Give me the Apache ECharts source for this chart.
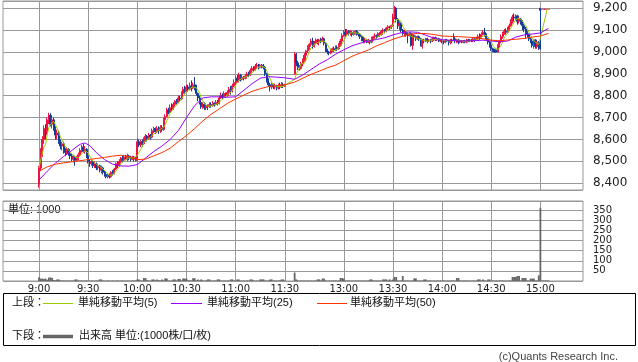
<!DOCTYPE html>
<html><head><meta charset="utf-8">
<script src="https://cdn.jsdelivr.net/npm/echarts@6/dist/echarts.min.js"></script>
<style>html,body{margin:0;padding:0;background:#fff}#c{width:638px;height:362px}</style>
</head><body><div id="c"></div><script>
// ---- time categories ----
function hm(t){return Math.floor(t/60)+':'+String(t%60).padStart(2,'0');}
function span(a,b){const o=[];for(let t=a;t<=b;t++)o.push(hm(t));return o;}
const preTimes = span(8*60+38, 8*60+59);
const amTimes = span(9*60, 11*60+30);
const gapTimes = ['g1','g2','g3','g4','g5'];
const pmTimes = span(12*60+30, 15*60+5);
const postTimes = span(15*60+6, 15*60+26);
const xTickLabels = ['9:00','9:30','10:00','10:30','11:00','11:30','13:00','13:30','14:00','14:30','15:00'];

// ---- candles [open, close, low, high] ----
const amCandles = [
[8395,8470,8380,8480],[8470,8540,8455,8560],[8540,8600,8520,8615],[8600,8650,8580,8665],[8650,8630,8600,8670],
[8630,8690,8620,8700],[8690,8710,8670,8722],[8710,8670,8660,8720],[8670,8690,8650,8700],[8690,8650,8640,8700],
[8650,8620,8600,8660],[8620,8630,8600,8645],[8630,8590,8580,8640],[8590,8570,8555,8600],[8570,8580,8550,8590],
[8580,8550,8535,8590],[8550,8540,8525,8560],[8540,8555,8530,8565],[8555,8535,8525,8560],[8535,8525,8510,8545],
[8525,8510,8500,8535],[8510,8520,8495,8530],[8520,8505,8480,8525],[8505,8515,8500,8525],[8515,8530,8505,8540],
[8530,8550,8525,8560],[8550,8565,8540,8575],[8565,8545,8540,8580],[8545,8555,8535,8570],[8555,8525,8515,8560],
[8525,8500,8490,8530],[8500,8490,8475,8510],[8490,8500,8480,8505],[8500,8480,8470,8505],[8480,8490,8470,8500],
[8490,8470,8460,8495],[8470,8480,8460,8490],[8480,8460,8450,8485],[8460,8470,8445,8480],[8470,8450,8440,8475],
[8450,8440,8430,8460],[8440,8430,8422,8450],[8430,8435,8422,8445],[8435,8430,8422,8445],[8430,8450,8425,8455],
[8450,8445,8435,8460],[8445,8465,8440,8470],[8465,8490,8460,8495],[8490,8480,8470,8500],[8480,8500,8475,8510],
[8500,8515,8490,8520],[8515,8505,8495,8525],[8505,8520,8500,8530],[8520,8510,8505,8530],[8510,8525,8500,8535],
[8525,8515,8505,8530],[8515,8510,8500,8525],[8510,8520,8505,8525],[8520,8510,8500,8525],[8510,8505,8500,8520],
[8505,8590,8500,8605],[8590,8575,8565,8600],[8575,8590,8565,8598],[8590,8580,8565,8600],[8580,8600,8575,8610],
[8600,8615,8590,8625],[8615,8605,8590,8620],[8605,8620,8598,8630],[8620,8610,8600,8625],[8610,8640,8605,8650],
[8640,8650,8630,8658],[8650,8635,8625,8655],[8635,8650,8630,8660],[8650,8640,8625,8660],[8640,8655,8630,8665],
[8655,8645,8635,8665],[8645,8690,8640,8700],[8690,8705,8680,8715],[8705,8735,8700,8745],[8735,8725,8715,8745],
[8725,8745,8720,8760],[8745,8740,8730,8765],[8740,8760,8735,8770],[8760,8775,8750,8780],[8775,8770,8760,8785],
[8770,8790,8765,8800],[8790,8785,8775,8800],[8785,8810,8780,8820],[8810,8830,8800,8840],[8830,8820,8810,8845],
[8820,8840,8815,8850],[8840,8830,8820,8850],[8830,8845,8825,8860],[8845,8835,8820,8870],[8835,8850,8830,8860],
[8850,8840,8825,8885],[8840,8810,8800,8850],[8810,8790,8775,8815],[8790,8770,8760,8800],[8770,8750,8740,8780],
[8750,8760,8740,8770],[8760,8745,8735,8770],[8745,8755,8735,8765],[8755,8750,8735,8760],[8750,8760,8745,8770],
[8760,8755,8745,8770],[8755,8765,8750,8775],[8765,8760,8750,8770],[8760,8770,8755,8780],[8770,8765,8755,8780],
[8765,8790,8760,8800],[8790,8800,8785,8815],[8800,8795,8785,8810],[8795,8810,8790,8820],[8810,8800,8790,8815],
[8800,8815,8795,8825],[8815,8830,8810,8840],[8830,8825,8805,8845],[8825,8845,8815,8855],[8845,8860,8840,8875],
[8860,8880,8850,8890],[8880,8870,8860,8895],[8870,8895,8860,8905],[8895,8875,8865,8900],[8875,8885,8870,8895],
[8885,8880,8870,8890],[8880,8890,8875,8900],[8890,8900,8880,8910],[8900,8895,8885,8910],[8895,8915,8890,8925],
[8915,8925,8905,8935],[8925,8920,8910,8935],[8920,8935,8915,8945],[8935,8940,8925,8950],[8940,8930,8920,8945],
[8930,8940,8925,8945],[8940,8935,8925,8945],[8935,8930,8920,8945],[8930,8900,8890,8935],[8900,8870,8860,8905],
[8870,8850,8840,8880],[8850,8840,8820,8860],[8840,8850,8830,8860],[8850,8840,8830,8855],[8840,8845,8830,8855],
[8845,8835,8825,8850],[8835,8845,8828,8855],[8845,8840,8830,8860],[8840,8850,8835,8862],[8850,8845,8835,8860],
[8845,8850,8840,8855]
];
const pmCandles = [
[8900,8990,8895,9000],[8990,8950,8935,8995],[8950,8930,8918,8960],[8930,8925,8915,8940],[8925,8945,8920,8955],
[8945,8960,8935,8970],[8960,8985,8955,8995],[8985,9005,8975,9010],[9005,9020,8995,9030],[9020,9035,9010,9040],
[9035,9050,9025,9060],[9050,9025,9015,9065],[9025,9040,9020,9050],[9040,9055,9035,9062],[9055,9045,9035,9060],
[9045,9055,9030,9060],[9055,9050,9040,9065],[9050,9060,9045,9070],[9060,9040,9030,9065],[9040,9010,9000,9045],
[9010,9000,8990,9015],[9000,8995,8985,9005],[8995,9005,8990,9015],[9005,9015,9000,9020],[9015,9010,9000,9025],
[9010,9020,9005,9030],[9020,9015,9005,9030],[9015,9030,9010,9040],[9030,9050,9025,9060],[9050,9075,9045,9085],
[9075,9090,9070,9100],[9090,9080,9070,9105],[9080,9095,9075,9105],[9095,9085,9075,9100],[9085,9090,9075,9100],
[9090,9080,9070,9095],[9080,9085,9075,9095],[9085,9095,9080,9100],[9095,9085,9075,9100],[9085,9080,9070,9090],
[9080,9070,9060,9085],[9070,9060,9050,9075],[9060,9050,9040,9070],[9050,9055,9040,9065],[9055,9045,9040,9060],
[9045,9050,9040,9060],[9050,9045,9035,9055],[9045,9060,9040,9070],[9060,9070,9055,9075],[9070,9075,9060,9085],
[9075,9070,9060,9080],[9070,9085,9065,9090],[9085,9080,9070,9090],[9080,9095,9075,9100],[9095,9100,9085,9108],
[9100,9095,9085,9105],[9095,9110,9090,9115],[9110,9115,9100,9123],[9115,9110,9100,9120],[9110,9120,9105,9125],
[9120,9160,9115,9175],[9160,9200,9150,9210],[9200,9150,9135,9205],[9150,9120,9105,9155],[9120,9130,9100,9140],
[9130,9100,9090,9135],[9100,9085,9075,9105],[9085,9090,9070,9100],[9090,9080,9070,9095],[9080,9075,9040,9090],
[9075,9085,9070,9090],[9085,9030,9025,9090],[9030,9075,9010,9085],[9075,9070,9060,9080],[9070,9060,9050,9075],
[9060,9070,9055,9075],[9070,9060,9050,9075],[9060,9030,9025,9065],[9025,9055,9015,9060],[9055,9050,9040,9060],
[9050,9060,9045,9065],[9060,9050,9040,9065],[9050,9055,9045,9060],[9055,9050,9040,9060],[9050,9060,9045,9070],
[9060,9065,9050,9070],[9065,9055,9050,9070],[9055,9060,9050,9065],[9060,9050,9045,9065],[9050,9055,9045,9060],
[9055,9050,9040,9060],[9050,9045,9035,9055],[9045,9055,9040,9060],[9055,9050,9045,9060],[9050,9045,9030,9055],
[9045,9055,9035,9060],[9055,9050,9040,9060],[9070,9060,9055,9085],[9060,9050,9040,9065],[9050,9055,9040,9060],
[9055,9045,9035,9060],[9045,9050,9040,9055],[9050,9045,9040,9055],[9045,9050,9040,9055],[9050,9045,9040,9055],
[9045,9055,9040,9060],[9055,9050,9045,9060],[9050,9055,9045,9060],[9055,9050,9045,9060],[9050,9060,9045,9065],
[9060,9055,9045,9065],[9055,9060,9050,9070],[9060,9070,9055,9080],[9070,9065,9055,9085],[9065,9080,9060,9090],
[9080,9090,9075,9100],[9090,9080,9070,9110],[9080,9060,9050,9085],[9060,9045,9035,9065],[9045,9030,9020,9050],
[9030,9015,9005,9035],[9015,9005,9000,9020],[9005,9000,8998,9015],[9010,9000,8998,9012],[9000,9030,8998,9035],
[9030,9050,9020,9055],[9050,9070,9040,9080],[9070,9085,9060,9092],[9085,9095,9078,9105],[9095,9090,9080,9108],
[9090,9105,9085,9115],[9105,9120,9095,9130],[9120,9140,9115,9150],[9140,9160,9130,9170],[9160,9155,9140,9176],
[9155,9165,9145,9172],[9165,9140,9125,9170],[9140,9150,9130,9160],[9150,9140,9125,9155],[9140,9120,9100,9145],
[9120,9105,9090,9130],[9105,9090,9060,9115],[9090,9080,9065,9095],[9080,9060,9050,9085],[9060,9050,9040,9065],
[9050,9030,9020,9055],[9030,9055,9015,9058],[9055,9025,9015,9058],[9025,9045,9015,9050],[9045,9015,9010,9050],
[9200,9190,9010,9200],[9195,9195,9195,9195],[9195,9195,9195,9195],[9195,9195,9195,9195],[9195,9195,9195,9195],
[9195,9195,9195,9195]
];

// ---- volume (1000 shares) ----
const amVolume = [
18,12,12,10,12,6,17,18,15,5, 4,8,8,4,3,3,2,3,2,3, 2,3,8,8,3,2,3,2,2,3,
2,2,3,2,2,3,2,8,8,3, 2,2,3,2,2,3,2,2,3,2, 2,3,2,2,3,2,2,3,2,3,
8,8,3,2,15,15,4,3,2,8, 8,3,8,4,3,8,3,13,12,3, 2,3,8,8,3,10,10,3,13,12,
12,4,3,3,14,14,3,8,3,8, 3,2,3,8,8,3,2,3,2,8, 8,3,2,3,2,3,2,8,8,3,
2,8,8,3,2,3,2,3,2,8, 8,3,2,3,2,8,8,8,3,2, 3,8,8,3,2,3,2,3,8,8, 3
];
const pmVolume = [
42,8,3,2,3,2,3,2,3,2, 3,2,3,2,8,8,3,12,12,3, 2,3,2,3,2,3,2,3,15,15,
12,3,2,3,2,3,2,3,2,3, 2,3,2,3,2,3,8,8,3,2, 3,2,3,2,8,8,8,3,8,3,
8,20,20,3,2,3,25,3,2,3, 2,3,2,13,13,3,2,3,2,8, 8,3,2,3,2,3,2,3,2,3,
2,3,2,3,2,3,2,3,2,15, 15,3,2,3,2,3,2,3,2,3, 2,3,8,8,3,8,3,2,8,8,
2,3,2,3,2,3,2,3,2,3, 2,3,2,20,20,20,25,25,3,15, 15,15,3,2,12,12,12,3,3,28,
362,3,3,3,3,3
];

// ---- moving averages ----
const ma25Samples = [
['9:00',8415],['9:05',8455],['9:10',8492],['9:15',8522],['9:20',8550],['9:25',8578],['9:28',8584],['9:31',8572],
['9:35',8540],['9:40',8508],['9:45',8487],['9:50',8479],['9:55',8478],['10:00',8485],['10:05',8515],['10:10',8545],
['10:15',8570],['10:20',8600],['10:25',8640],['10:30',8700],['10:35',8755],['10:40',8790],['10:45',8795],['10:50',8795],
['10:55',8793],['11:00',8795],['11:05',8825],['11:10',8855],['11:15',8880],['11:20',8887],['11:25',8885],['11:30',8882],
['12:30',8875],['12:35',8895],['12:40',8920],['12:45',8945],['12:50',8965],['12:55',8990],['13:00',9010],['13:05',9028],
['13:10',9040],['13:15',9050],['13:20',9057],['13:25',9065],['13:30',9078],['13:35',9088],['13:40',9092],['13:45',9090],
['13:50',9077],['13:55',9063],['14:00',9056],['14:05',9053],['14:10',9051],['14:15',9051],['14:20',9052],['14:25',9054],
['14:30',9050],['14:35',9047],['14:40',9050],['14:45',9068],['14:50',9078],['14:55',9082],['15:00',9087],['15:05',9108]
];
const ma50Samples = [
['9:00',8455],['9:05',8475],['9:10',8487],['9:15',8493],['9:20',8498],['9:25',8503],['9:30',8508],['9:35',8513],
['9:40',8518],['9:45',8524],['9:50',8528],['9:55',8522],['10:00',8508],['10:05',8510],['10:10',8525],['10:15',8540],
['10:20',8560],['10:25',8590],['10:30',8618],['10:35',8650],['10:40',8685],['10:45',8715],['10:50',8740],['10:55',8765],
['11:00',8785],['11:05',8803],['11:10',8820],['11:15',8832],['11:20',8842],['11:25',8846],['11:30',8850],
['12:30',8862],['12:35',8880],['12:40',8898],['12:45',8912],['12:50',8928],['12:55',8940],['13:00',8960],['13:05',8980],
['13:10',8995],['13:15',9009],['13:20',9028],['13:25',9043],['13:30',9058],['13:35',9070],['13:40',9080],['13:45',9085],
['13:50',9084],['13:55',9080],['14:00',9073],['14:05',9071],['14:10',9070],['14:15',9068],['14:20',9066],['14:25',9060],
['14:30',9054],['14:35',9051],['14:40',9055],['14:45',9058],['14:50',9062],['14:55',9068],['15:00',9073],['15:05',9085]
];

// ---- build series data ----
const cats = [].concat(preTimes, amTimes, gapTimes, pmTimes, postTimes);
const N = cats.length;
const candleData = new Array(N).fill('-');
const volData = new Array(N).fill('-');
const ma5Data = new Array(N).fill(null);
const ma25Data = new Array(N).fill(null);
const ma50Data = new Array(N).fill(null);
const seqIdx = [], seqClose = [];
amTimes.forEach((t,i)=>{const k=cats.indexOf(t);candleData[k]=amCandles[i];volData[k]=amVolume[i];seqIdx.push(k);seqClose.push(amCandles[i][1]);});
pmTimes.forEach((t,i)=>{const k=cats.indexOf(t);candleData[k]=pmCandles[i];volData[k]=pmVolume[i];seqIdx.push(k);seqClose.push(pmCandles[i][1]);});
seqIdx.forEach((k,j)=>{const w=seqClose.slice(Math.max(0,j-4),j+1);ma5Data[k]=w.reduce((a,b)=>a+b,0)/w.length;});
ma25Samples.forEach(([t,v])=>{ma25Data[cats.indexOf(t)]=v;});
ma50Samples.forEach(([t,v])=>{ma50Data[cats.indexOf(t)]=v;});

const tickSet = new Set(xTickLabels);
const gridColor = '#999999';
const fmt = v => String(v).replace(/\B(?=(\d{3})+(?!\d))/g, ',');
const JP = '"Liberation Sans", "Noto Sans CJK JP", sans-serif';

const chart = echarts.init(document.getElementById('c'), null, {renderer:'canvas'});
chart.setOption({
  animation:false,
  backgroundColor:'#fff',
  grid:[
    {left:3, top:1, width:580, height:189, show:true, borderColor:gridColor, borderWidth:1, backgroundColor:'transparent'},
    {left:3, top:201, width:580, height:80, show:true, borderColor:gridColor, borderWidth:1, backgroundColor:'transparent'}
  ],
  xAxis:[
    {type:'category', gridIndex:0, data:cats, boundaryGap:false,
     axisLine:{show:false}, axisTick:{show:false}, axisLabel:{show:false},
     splitLine:{show:true, interval:(i,v)=>tickSet.has(v), lineStyle:{color:gridColor, width:1}}},
    {type:'category', gridIndex:1, data:cats, boundaryGap:false,
     axisLine:{show:false}, axisTick:{show:false},
     axisLabel:{show:true, interval:(i,v)=>tickSet.has(v), fontSize:10, color:'#222', margin:3, fontFamily:'DejaVu Sans'},
     splitLine:{show:true, interval:(i,v)=>tickSet.has(v), lineStyle:{color:gridColor, width:1}}}
  ],
  yAxis:[
    {type:'value', gridIndex:0, position:'right', min:8369, max:9233, splitNumber:9, scale:true,
     axisLine:{show:false}, axisTick:{show:false},
     axisLabel:{showMinLabel:false, showMaxLabel:false, margin:10, fontSize:12, color:'#222', fontFamily:'DejaVu Sans', formatter:fmt},
     splitLine:{show:true, lineStyle:{color:gridColor, width:1}}},
    {type:'value', gridIndex:1, position:'right', min:0, max:396, splitNumber:8,
     axisLine:{show:false}, axisTick:{show:false},
     axisLabel:{showMinLabel:false, showMaxLabel:false, margin:10, fontSize:10, color:'#222', fontFamily:'DejaVu Sans'},
     splitLine:{show:true, lineStyle:{color:gridColor, width:1}}}
  ],
  series:[
    {type:'candlestick', xAxisIndex:0, yAxisIndex:0, data:candleData, barWidth:1.6,
     itemStyle:{color:'#ee1144', color0:'#123c99', borderColor:'#ee1144', borderColor0:'#123c99', borderWidth:1}},
    {type:'line', xAxisIndex:0, yAxisIndex:0, data:ma5Data, symbol:'none', connectNulls:true, z:4,
     lineStyle:{color:'#99cc00', width:1}},
    {type:'line', xAxisIndex:0, yAxisIndex:0, data:ma25Data, symbol:'none', connectNulls:true, z:4,
     lineStyle:{color:'#9900ff', width:1}},
    {type:'line', xAxisIndex:0, yAxisIndex:0, data:ma50Data, symbol:'none', connectNulls:true, z:4,
     lineStyle:{color:'#ff3300', width:1}},
    {type:'bar', xAxisIndex:1, yAxisIndex:1, data:volData, barWidth:1.8, itemStyle:{color:'#666'}}
  ],
  graphic:[
    {type:'text', x:8, y:210, style:{text:'単位: 1000', font:'11px '+JP, fill:'#111', verticalAlign:'middle'}},
    {type:'rect', shape:{x:3.5, y:293.5, width:632, height:52}, style:{fill:'none', stroke:'#000', lineWidth:1}},
    {type:'text', x:12, y:303, style:{text:'上段：', font:'11px '+JP, fill:'#111', verticalAlign:'middle'}},
    {type:'line', shape:{x1:43, y1:303.5, x2:73, y2:303.5}, style:{stroke:'#99cc00', lineWidth:1}},
    {type:'text', x:78, y:303, style:{text:'単純移動平均(5)', font:'11px '+JP, fill:'#111', verticalAlign:'middle'}},
    {type:'line', shape:{x1:171, y1:303.5, x2:202, y2:303.5}, style:{stroke:'#9900ff', lineWidth:1}},
    {type:'text', x:207, y:303, style:{text:'単純移動平均(25)', font:'11px '+JP, fill:'#111', verticalAlign:'middle'}},
    {type:'line', shape:{x1:317, y1:303.5, x2:347, y2:303.5}, style:{stroke:'#ff3300', lineWidth:1}},
    {type:'text', x:350, y:303, style:{text:'単純移動平均(50)', font:'11px '+JP, fill:'#111', verticalAlign:'middle'}},
    {type:'text', x:12, y:336, style:{text:'下段：', font:'11px '+JP, fill:'#111', verticalAlign:'middle'}},
    {type:'line', shape:{x1:43, y1:336.5, x2:73, y2:336.5}, style:{stroke:'#666', lineWidth:3.5}},
    {type:'text', x:79, y:336, style:{text:'出来高 単位:(1000株/口/枚)', font:'11px '+JP, fill:'#111', verticalAlign:'middle'}},
    {type:'text', x:618, y:357, style:{text:'(c)Quants Research Inc.', font:'11px "Liberation Sans", sans-serif', fill:'#444', align:'right', verticalAlign:'middle'}}
  ]
});
</script></body></html>
